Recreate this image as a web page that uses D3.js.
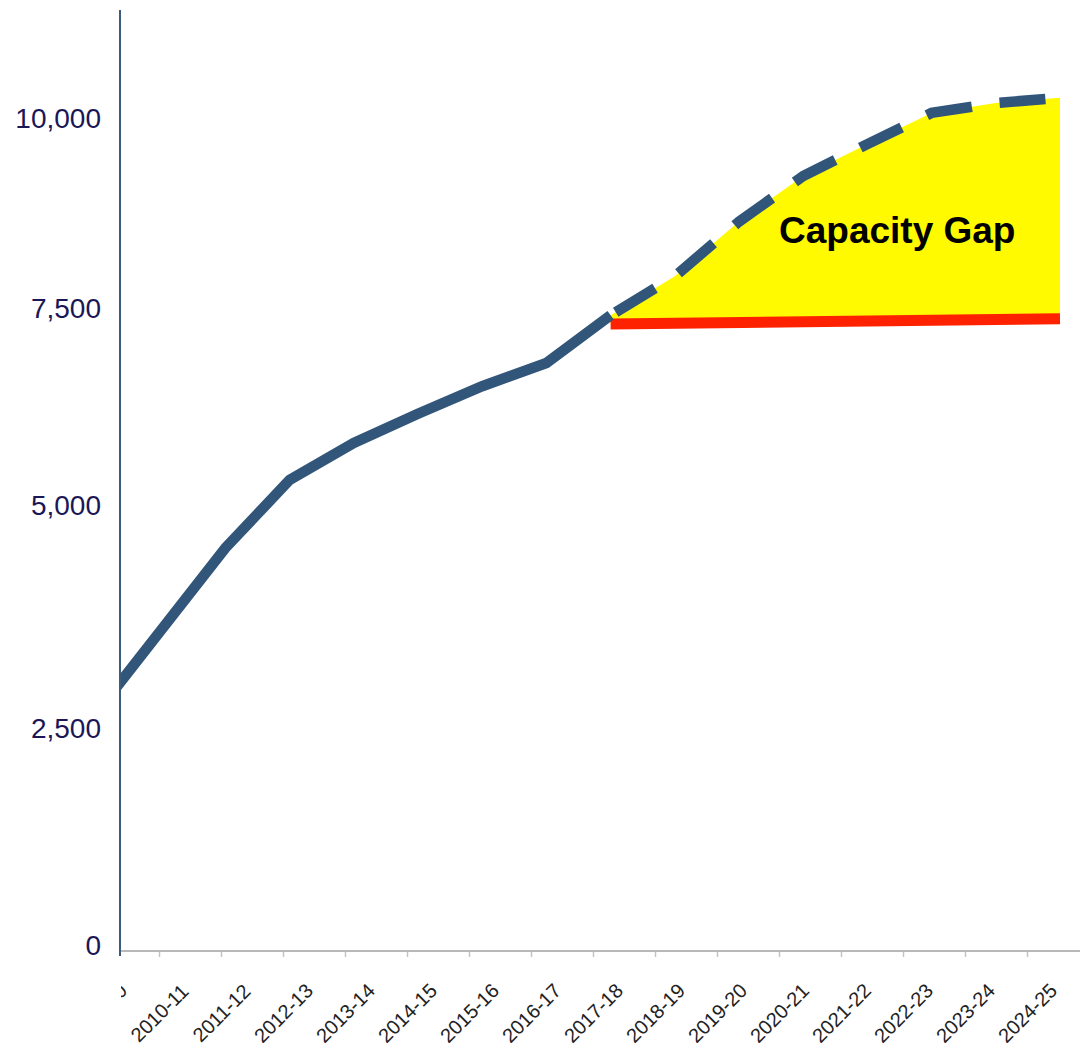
<!DOCTYPE html>
<html>
<head>
<meta charset="utf-8">
<script src="https://cdn.jsdelivr.net/npm/d3@7"></script>
<style>
    body { margin: 0; background: #ffffff; }
    #chart { width: 1080px; height: 1059px; }
</style>
</head>
<body>
<div id="chart"></div>
<script>

// financial years on the x axis (first one is cut off by the y axis)
const years = ["2009-10", "2010-11", "2011-12", "2012-13", "2013-14", "2014-15", "2015-16", "2016-17",
               "2017-18", "2018-19", "2019-20", "2020-21", "2021-22", "2022-23", "2023-24", "2024-25"];

// actual demand, 2009-10 .. 2017-18
const actualYears = years.slice(0, 9);
const actualValues = [2690, 3610, 4530, 5330, 5800, 6170, 6520, 6815, 7420];

// forecast demand, 2017-18 .. 2024-25
const forecastYears = years.slice(8);
const forecastValues = [7420, 7930, 8650, 9250, 9670, 10080, 10210, 10280];

// current capacity (straight line)
const capacityYears = ["2017-18", "2024-25"];
const capacityValues = [7310, 7375];

const yTicks = [0, 2500, 5000, 7500, 10000];
const gapLabel = "Capacity Gap";


function CapacityChart(id){
    var self = this;
    self.sectionId = id;
    self.initVis();
}

CapacityChart.prototype.initVis = function(){
    var self = this;

    self.svgWidth = 1080;
    self.svgHeight = 1059;
    self.axisX = 120;     // where the y axis line sits
    self.baseY = 951;     // where the x axis line sits

    self.svg = d3.select(`#${self.sectionId}`)
        .append("svg")
        .attr("width", self.svgWidth)
        .attr("height", self.svgHeight)
        .style("font-family", "'Liberation Sans', Arial, sans-serif");

    // label positions on the original slide are not evenly spaced, so use a polylinear scale
    self.y = d3.scaleLinear()
        .domain(yTicks)
        .range([946, 729, 506, 309, 119]);

    // tick labels and plotted series were laid out at slightly different spacing
    self.xAxisScale = d3.scalePoint().domain(years).range([97, 1027]);
    self.x = d3.scalePoint().domain(years).range([97, 1060]);

    let defs = self.svg.append("defs");
    defs.append("clipPath").attr("id", "plotClip")
        .append("rect")
        .attr("x", self.axisX + 1).attr("y", 0)
        .attr("width", self.svgWidth - self.axisX).attr("height", self.svgHeight);

    // x axis
    let xWrap = self.svg.append("g").attr("clip-path", "url(#plotClip)");
    let xAxisG = xWrap.append("g")
        .attr("transform", `translate(0, ${self.baseY})`)
        .call(d3.axisBottom(self.xAxisScale).tickSize(6).tickSizeOuter(0));
    xAxisG.select(".domain").remove();
    xAxisG.selectAll(".tick line").attr("stroke", "#c4c4c4").attr("stroke-width", 1.5);
    xAxisG.selectAll(".tick text")
        .attr("y", 0)
        .attr("dy", "0.35em")
        .attr("text-anchor", "middle")
        .attr("transform", "translate(0, 62) rotate(-45)")
        .attr("fill", "#222222")
        .style("font-size", "20px");
    xWrap.append("line")
        .attr("x1", self.axisX).attr("x2", self.svgWidth)
        .attr("y1", self.baseY).attr("y2", self.baseY)
        .attr("stroke", "#b8b8b8").attr("stroke-width", 2);

    // y axis
    let yAxisG = self.svg.append("g")
        .attr("transform", `translate(${self.axisX}, 0)`)
        .call(d3.axisLeft(self.y).tickValues(yTicks).tickSize(0).tickPadding(19).tickFormat(d3.format(",")));
    yAxisG.select(".domain").remove();
    yAxisG.selectAll(".tick text")
        .attr("fill", "#1b1757")
        .style("font-size", "28px");
    self.svg.append("line")
        .attr("x1", self.axisX).attr("x2", self.axisX)
        .attr("y1", 10).attr("y2", 956)
        .attr("stroke", "#3d5c7c").attr("stroke-width", 2);

    let plot = self.svg.append("g").attr("clip-path", "url(#plotClip)");

    // yellow gap area: forecast line forward, capacity line back
    let gapPoints = forecastYears.map((d, i) => [self.x(d), self.y(forecastValues[i])]);
    capacityYears.slice().reverse().forEach(function(d){
        let i = capacityYears.indexOf(d);
        gapPoints.push([self.x(d), self.y(capacityValues[i])]);
    });
    plot.append("path")
        .attr("d", d3.line()(gapPoints) + "Z")
        .attr("fill", "#fffa00");

    // capacity line
    plot.append("path")
        .datum(capacityYears.map((d, i) => ({year: d, value: capacityValues[i]})))
        .attr("fill", "none")
        .attr("stroke", "#ff2200")
        .attr("stroke-width", 11)
        .attr("d", d3.line()
            .x(function(d) { return self.x(d.year); })
            .y(function(d) { return self.y(d.value); }));

    // actual demand
    plot.append("path")
        .datum(actualYears.map((d, i) => ({year: d, value: actualValues[i]})))
        .attr("fill", "none")
        .attr("stroke", "#32557a")
        .attr("stroke-width", 10.5)
        .attr("stroke-linejoin", "miter")
        .attr("d", d3.line()
            .x(function(d) { return self.x(d.year); })
            .y(function(d) { return self.y(d.value); }));

    // forecast demand (dashed)
    plot.append("path")
        .datum(forecastYears.map((d, i) => ({year: d, value: forecastValues[i]})))
        .attr("fill", "none")
        .attr("stroke", "#32557a")
        .attr("stroke-width", 10.5)
        .attr("stroke-dasharray", "46,28")
        .attr("stroke-dashoffset", -6)
        .attr("d", d3.line()
            .x(function(d) { return self.x(d.year); })
            .y(function(d) { return self.y(d.value); }));

    self.svg.append("text")
        .attr("x", 779)
        .attr("y", 243)
        .attr("fill", "#000000")
        .style("font-size", "37px")
        .style("font-weight", "bold")
        .text(gapLabel);
}

new CapacityChart("chart");

</script>
</body>
</html>
